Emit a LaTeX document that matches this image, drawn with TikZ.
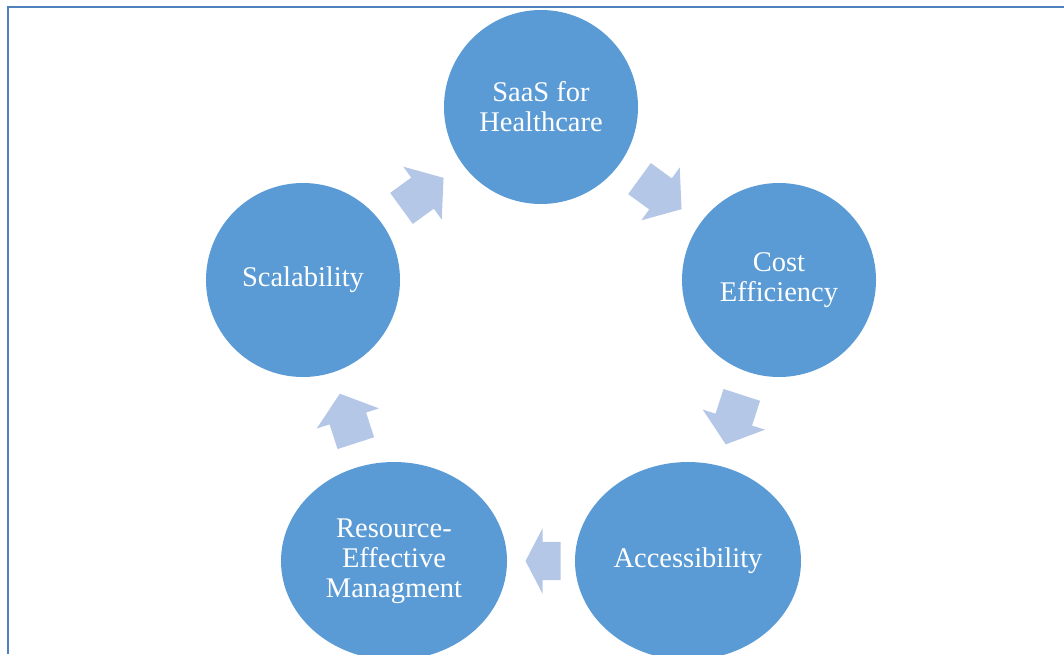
\documentclass[tikz,border=0pt]{standalone}
\usepackage{fontspec}
\setmainfont{Liberation Serif}
\usetikzlibrary{positioning,shapes.geometric,shapes.arrows}
\definecolor{bubblefill}{HTML}{5B9BD5}
\definecolor{flowfill}{HTML}{B4C7E7}
\definecolor{framecol}{HTML}{4F81BD}

\begin{document}
\begin{tikzpicture}[x=1pt,y=-1pt,on grid,
	bubble/.style={circle,fill=bubblefill,text=white,minimum size=194pt,inner sep=0pt,
		align=center,font=\fontsize{28.5}{30}\selectfont},
	bigbubble/.style={bubble,ellipse,minimum width=226pt,minimum height=198pt},
	flow/.style={single arrow,fill=flowfill,sloped,allow upside down,inner xsep=0pt,
		inner ysep=19pt,minimum height=52pt,single arrow head extend=13.5pt,
		single arrow tip angle=103,xshift=-7pt}]
	\useasboundingbox (0,0) rectangle (1064,654);
	\draw[framecol,line width=1.5pt] (8,654) -- (8,7) -- (1064,7);
	\node[bubble] (saas) at (541,107) {SaaS for\\Healthcare};
	\node[bubble] (cost) [below right=173pt and 238pt of saas] {Cost\\Efficiency};
	\node[bubble] (scal) [below left=173pt and 238pt of saas] {Scalability};
	\node[bigbubble] (access) [below left=281pt and 91pt of cost] {Accessibility};
	\node[bigbubble] (resource) [left=294pt of access] {Resource-\\Effective\\Managment};
	\path (scal) -- node[flow] {} (saas);
	\path (saas) -- node[flow] {} (cost);
	\path (cost) -- node[flow] {} (access);
	\path (access) -- node[flow,minimum height=35pt,single arrow tip angle=125] {} (resource);
	\path (resource) -- node[flow] {} (scal);
\end{tikzpicture}
\end{document}
